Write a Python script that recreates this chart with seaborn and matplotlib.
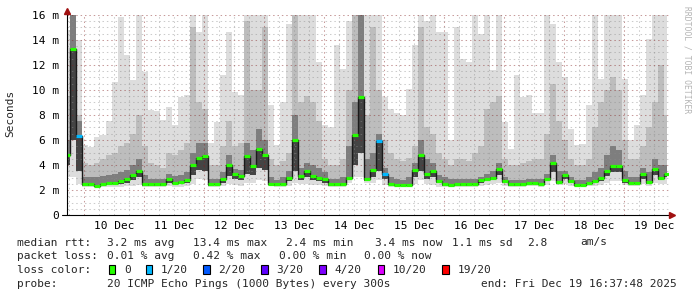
import numpy as np
import pandas as pd
import matplotlib
matplotlib.use("Agg")
import matplotlib.pyplot as plt
import matplotlib.dates as mdates
from matplotlib.patches import Rectangle
import seaborn as sns

sns.set_style("white")
plt.rcParams['font.family'] = ['DejaVu Sans Mono', 'DejaVu Sans']

# ---------------- data (ms) ----------------
start_time = "2025-12-09 17:12"
sample_step = "144min"

median_ms = [4.8, 13.3, 6.3, 2.45, 2.45, 2.35, 2.5, 2.6, 2.6, 2.7, 2.9, 3.2, 3.5, 2.45, 2.45, 2.45, 2.45,
             2.9, 2.6, 2.65, 2.8, 4.0, 4.6, 4.7, 2.45, 2.5, 2.9, 4.0, 3.3, 3.1, 4.7, 3.9, 5.3, 4.8,
             2.5, 2.45, 2.5, 3.0, 6.0, 3.1, 3.5, 3.1, 3.0, 2.9, 2.45, 2.45, 2.45, 3.0, 6.4, 9.4, 2.9,
             3.6, 5.9, 3.3, 2.5, 2.4, 2.4, 2.4, 3.6, 4.8, 3.3, 3.5, 2.75, 2.45, 2.4, 2.45, 2.45, 2.45,
             2.5, 2.8, 2.9, 3.0, 3.7, 2.75, 2.45, 2.45, 2.45, 2.6, 2.6, 2.5, 2.9, 4.2, 2.65, 3.2, 2.7,
             2.4, 2.4, 2.6, 2.7, 2.95, 3.5, 3.95, 3.95, 2.8, 2.6, 2.6, 3.3, 2.65, 3.7, 3.0, 3.3]

loss_of_20 = [0, 0, 1, 0, 0, 0, 0, 0, 0, 0, 0, 0, 0, 0, 0, 0, 0,
              0, 0, 0, 0, 0, 0, 0, 0, 0, 0, 0, 0, 0, 0, 0, 0, 0,
              0, 0, 0, 0, 0, 0, 0, 0, 0, 0, 0, 0, 0, 0, 0, 0, 0,
              0, 1, 1, 0, 0, 0, 0, 0, 0, 0, 0, 0, 0, 0, 0, 0, 0,
              0, 0, 0, 0, 0, 0, 0, 0, 0, 0, 0, 0, 0, 0, 0, 0, 0,
              0, 0, 0, 0, 0, 0, 0, 0, 0, 0, 0, 0, 0, 0, 0, 0]

smoke_max = [14.8, 17, 14, 5.6, 5.4, 6.2, 6.4, 7.5, 10.6, 15.8, 12.8, 10.8, 16, 11.4, 8.4, 8.3, 7.6,
             8.6, 7.2, 9.4, 9.6, 16, 14.6, 16, 5.8, 7.4, 11.2, 14.6, 9.8, 9.6, 16, 16, 16, 16,
             8.8, 5.6, 9.0, 15.3, 16, 16, 16, 16, 12.2, 7.2, 7.0, 13.6, 11.7, 15.5, 16, 16, 16,
             16, 16, 9.4, 8.5, 8.2, 8.0, 10.1, 13.6, 16, 15.5, 16, 14.6, 14.6, 6.0, 15, 12.5, 12.2,
             16, 14.5, 16, 11.6, 16, 7.4, 5.3, 11.2, 9.4, 9.6, 8.2, 8.2, 16, 15.3, 12.2, 11.0, 6.9,
             5.6, 5.7, 8.8, 16, 10.9, 16, 16, 16, 10.9, 6.0, 7.2, 9.6, 14.1, 16, 16, 16]

smoke_mid = [9.5, 17, 8, 4.2, 4.0, 4.2, 4.5, 4.8, 5.0, 5.5, 5.8, 6.5, 8.0, 5.5, 4.2, 4.0, 3.8,
             5.0, 4.8, 5.2, 5.8, 15, 9.0, 8.5, 4.0, 4.0, 5.5, 7.5, 5.5, 5.8, 15.5, 10, 10, 15,
             4.5, 4.0, 4.3, 5.0, 16, 9.0, 9.5, 9.0, 7.5, 4.5, 4.0, 4.0, 4.5, 10, 16, 16, 8,
             15, 10, 6.0, 5.0, 4.5, 4.3, 4.6, 5.5, 15, 7, 6.5, 5, 4.5, 4.0, 4.5, 4.5, 4.3,
             5.0, 5.5, 8.5, 9.0, 9.5, 4.5, 4.0, 4.0, 4.2, 4.3, 4.5, 4.5, 6.5, 10.5, 7.5, 6, 4.5,
             4.0, 4.0, 4.5, 7, 9, 10, 11, 10, 6, 4.5, 4.5, 5.5, 7, 9, 12, 8]

smoke_dark = [6.0, 17, 7.5, 3.0, 3.0, 3.0, 3.1, 3.2, 3.3, 3.4, 3.6, 4.0, 4.5, 3.2, 2.9, 2.9, 2.9,
              3.3, 3.1, 3.2, 3.4, 5.0, 5.8, 5.8, 2.9, 2.9, 3.4, 4.8, 3.7, 3.6, 5.8, 5.2, 6.9, 6.0,
              3.0, 2.8, 3.0, 3.5, 8.0, 3.8, 4.2, 4.0, 3.8, 3.4, 2.9, 2.9, 3.0, 5.5, 9.0, 16, 4.5,
              5.0, 6.5, 3.8, 3.0, 2.9, 2.8, 3.0, 4.2, 6.0, 4.5, 4.2, 3.2, 3.0, 2.9, 2.9, 2.9, 2.9,
              2.9, 3.0, 3.3, 3.5, 4.2, 3.0, 2.8, 2.8, 2.8, 2.9, 2.9, 2.9, 3.3, 4.8, 3.5, 3.5, 3.0,
              2.8, 2.8, 3.0, 3.4, 3.8, 4.8, 5.5, 5.2, 3.5, 3.0, 3.0, 3.8, 3.4, 4.5, 4.0, 4.0]

smoke_q25 = [4.0, 6.0, 3.5, 2.35, 2.35, 2.3, 2.35, 2.4, 2.45, 2.5, 2.6, 2.8, 3.0, 2.35, 2.35, 2.35, 2.35,
             2.6, 2.45, 2.5, 2.6, 3.2, 3.6, 3.5, 2.35, 2.4, 2.6, 3.1, 2.9, 2.8, 3.3, 3.2, 3.8, 3.6,
             2.4, 2.35, 2.4, 2.7, 3.5, 2.8, 3.0, 2.8, 2.7, 2.6, 2.35, 2.35, 2.35, 2.8, 4.0, 5.0, 2.7,
             3.0, 3.5, 2.9, 2.4, 2.3, 2.3, 2.3, 3.0, 3.5, 2.9, 3.0, 2.6, 2.35, 2.3, 2.35, 2.35, 2.35,
             2.4, 2.6, 2.7, 2.8, 3.2, 2.6, 2.35, 2.35, 2.35, 2.45, 2.45, 2.4, 2.7, 3.4, 2.5, 2.9, 2.55,
             2.3, 2.3, 2.45, 2.55, 2.75, 3.1, 3.4, 3.4, 2.6, 2.45, 2.45, 2.9, 2.5, 3.2, 2.8, 3.0]

smoke_min = [3.0, 3.0, 2.5, 2.2, 2.2, 2.2, 2.2, 2.2, 2.2, 2.2, 2.3, 2.3, 2.4, 2.2, 2.2, 2.2, 2.2,
             2.3, 2.2, 2.2, 2.3, 2.5, 2.9, 2.8, 2.2, 2.2, 2.3, 2.5, 2.4, 2.3, 2.6, 2.6, 2.8, 2.7,
             2.3, 2.2, 2.2, 2.3, 2.6, 2.5, 2.5, 2.4, 2.4, 2.3, 2.2, 2.2, 2.2, 2.6, 3.0, 3.0, 2.6,
             2.6, 2.8, 2.4, 2.2, 2.2, 2.2, 2.2, 2.5, 2.8, 2.5, 2.4, 2.2, 2.2, 2.2, 2.2, 2.2, 2.2,
             2.2, 2.3, 2.4, 2.5, 2.6, 2.3, 2.2, 2.2, 2.2, 2.3, 2.3, 2.2, 2.4, 2.7, 2.4, 2.5, 2.3,
             2.2, 2.2, 2.3, 2.3, 2.4, 2.6, 2.7, 2.7, 2.4, 2.3, 2.3, 2.5, 2.3, 2.6, 2.5, 2.5]

loss_levels = ["0", "1/20", "2/20", "3/20", "4/20", "10/20", "19/20"]
loss_values = [0, 1, 2, 3, 4, 10, 19]
loss_colors = ["#26ff00", "#00b8ff", "#0059ff", "#5e00ff", "#7e00ff", "#dd00ff", "#ff0000"]

y_ticks = [0, 2, 4, 6, 8, 10, 12, 14, 16]
y_labels = ["0", "2 m", "4 m", "6 m", "8 m", "10 m", "12 m", "14 m", "16 m"]

legend_rtt = [("median rtt:", 16.7), ("3.2 ms avg", 107.3), ("13.4 ms max", 192.7),
              ("2.4 ms min", 286), ("3.4 ms now", 375), ("1.1 ms sd", 451.7),
              ("2.8", 526.7), ("am/s", 580)]
legend_loss = [("packet loss:", 16.7), ("0.01 % avg", 107.3), ("0.42 % max", 193.3),
               ("0.00 % min", 279.3), ("0.00 % now", 364.3)]
probe_text = "20 ICMP Echo Pings (1000 Bytes) every 300s"
end_text = "end: Fri Dec 19 16:37:48 2025"

# ---------------- frame ----------------
times = pd.date_range(start_time, periods=len(median_ms), freq=sample_step)
df = pd.DataFrame({"t": mdates.date2num(times.to_pydatetime()),
                   "median": median_ms, "loss": loss_of_20,
                   "smax": smoke_max, "smid": smoke_mid, "sdark": smoke_dark,
                   "sq25": smoke_q25, "smin": smoke_min})
color_of = dict(zip(loss_values, loss_colors))
df["color"] = df["loss"].map(color_of)

W, H = 697, 297
fig = plt.figure(figsize=(W / 100, H / 100), dpi=100)
ax = fig.add_axes([67 / W, (H - 215) / H, (669 - 67) / W, 200 / H])

# smoke (outer bands light, inner bands darker)
ax.fill_between(df["t"], df["smin"], df["smax"], step="mid", color="#dddddd", lw=0, zorder=1)
ax.fill_between(df["t"], df["sq25"], df["smid"], step="mid", color="#bdbdbd", lw=0, zorder=2)
ax.fill_between(df["t"], df["sq25"], df["sdark"], step="mid", color="#7e7e7e", lw=0, zorder=3)
ax.fill_between(df["t"], df["sq25"], df["median"], step="mid", color="#444444", lw=0, zorder=3.5)

# median
sns.lineplot(data=df, x="t", y="median", ax=ax, color="#1a1a1a", lw=1,
             drawstyle="steps-mid", zorder=6)
step_days = pd.Timedelta(sample_step) / pd.Timedelta("1D")
ax.hlines(df["median"], df["t"] - step_days / 2, df["t"] + step_days / 2,
          colors=df["color"], lw=2.3, zorder=7)

# limits
day0 = mdates.date2num(pd.Timestamp("2025-12-10").to_pydatetime())
ax.set_xlim(day0 - 17 / 60, day0 + 585 / 60)
ax.set_ylim(0, 16)

# grid
grid_gray = (0.55, 0.55, 0.55, 0.45)
grid_red = (0.51, 0.12, 0.12, 0.45)
dash = (0, (1.4, 2.8))
for ts in pd.date_range("2025-12-09 18:00", "2025-12-19 18:00", freq="6h"):
    c = grid_red if ts.hour == 0 else grid_gray
    ax.axvline(mdates.date2num(ts.to_pydatetime()), color=c, lw=0.75, ls=dash, zorder=4)
for v in np.arange(0.5, 16.01, 0.5):
    c = grid_red if v % 2 == 0 else grid_gray
    ax.axhline(v, color=c, lw=0.75, ls=dash, zorder=4)

# ticks
ax.set_yticks(y_ticks)
ax.set_yticklabels(y_labels)
noons = pd.date_range("2025-12-10 12:00", "2025-12-19 12:00", freq="1D")
ax.set_xticks(mdates.date2num(noons.to_pydatetime()))
ax.set_xticklabels([f"{d.day} Dec" for d in noons])
ax.tick_params(axis="y", length=2.5, width=0.8, pad=3, labelsize=8, colors="black")
ax.tick_params(axis="x", length=0, pad=4.5, labelsize=8, colors="black")
ax.set_xlabel("")
ax.set_ylabel("")
for s in ax.spines.values():
    s.set_visible(False)

# axes lines and arrows
ax.plot([0, 0], [0, 1.03], transform=ax.transAxes, color="black", lw=0.8, clip_on=False, zorder=8)
ax.plot([-0.008, 1.004], [0, 0], transform=ax.transAxes, color="black", lw=0.8, clip_on=False, zorder=8)
ax.plot([0], [1.022], transform=ax.transAxes, marker="^", ms=5, color="#a01010", clip_on=False, zorder=9)
ax.plot([1.005], [0], transform=ax.transAxes, marker=">", ms=5, color="#a01010", clip_on=False, zorder=9)

# side texts
fig.text(10 / W, 1 - 113.5 / H, "Seconds", rotation=90, ha="center", va="center", fontsize=8)
fig.text(687 / W, 1 - 60 / H, "RRDTOOL / TOBI OETIKER", rotation=270, ha="center", va="center",
         fontsize=5.8, color="#b4b4b4")

# legend lines
fs = 8
rows = [245.5, 259.3, 273.1, 286.9]
for s, x in legend_rtt:
    fig.text(x / W, 1 - rows[0] / H, s, ha="left", va="baseline", fontsize=fs)
for s, x in legend_loss:
    fig.text(x / W, 1 - rows[1] / H, s, ha="left", va="baseline", fontsize=fs)
fig.text(16.7 / W, 1 - rows[2] / H, "loss color:", ha="left", va="baseline", fontsize=fs)
swatch_x = [108.7, 145.7, 203.3, 261.3, 319.3, 377.7, 442.3]
for lbl, col, sx in zip(loss_levels, loss_colors, swatch_x):
    fig.add_artist(Rectangle((sx / W, 1 - 274 / H), 6.6 / W, 9.3 / H, transform=fig.transFigure,
                             facecolor=col, edgecolor="black", lw=0.8))
    fig.text((sx + 15.3) / W, 1 - rows[2] / H, lbl, ha="left", va="baseline", fontsize=fs)
fig.text(16.7 / W, 1 - rows[3] / H, "probe:", ha="left", va="baseline", fontsize=fs)
fig.text(107.3 / W, 1 - rows[3] / H, probe_text, ha="left", va="baseline", fontsize=fs)
fig.text(579 / W, 1 - rows[3] / H, end_text, ha="center", va="baseline", fontsize=fs)

fig.savefig("out.png", dpi=100, facecolor="white")
